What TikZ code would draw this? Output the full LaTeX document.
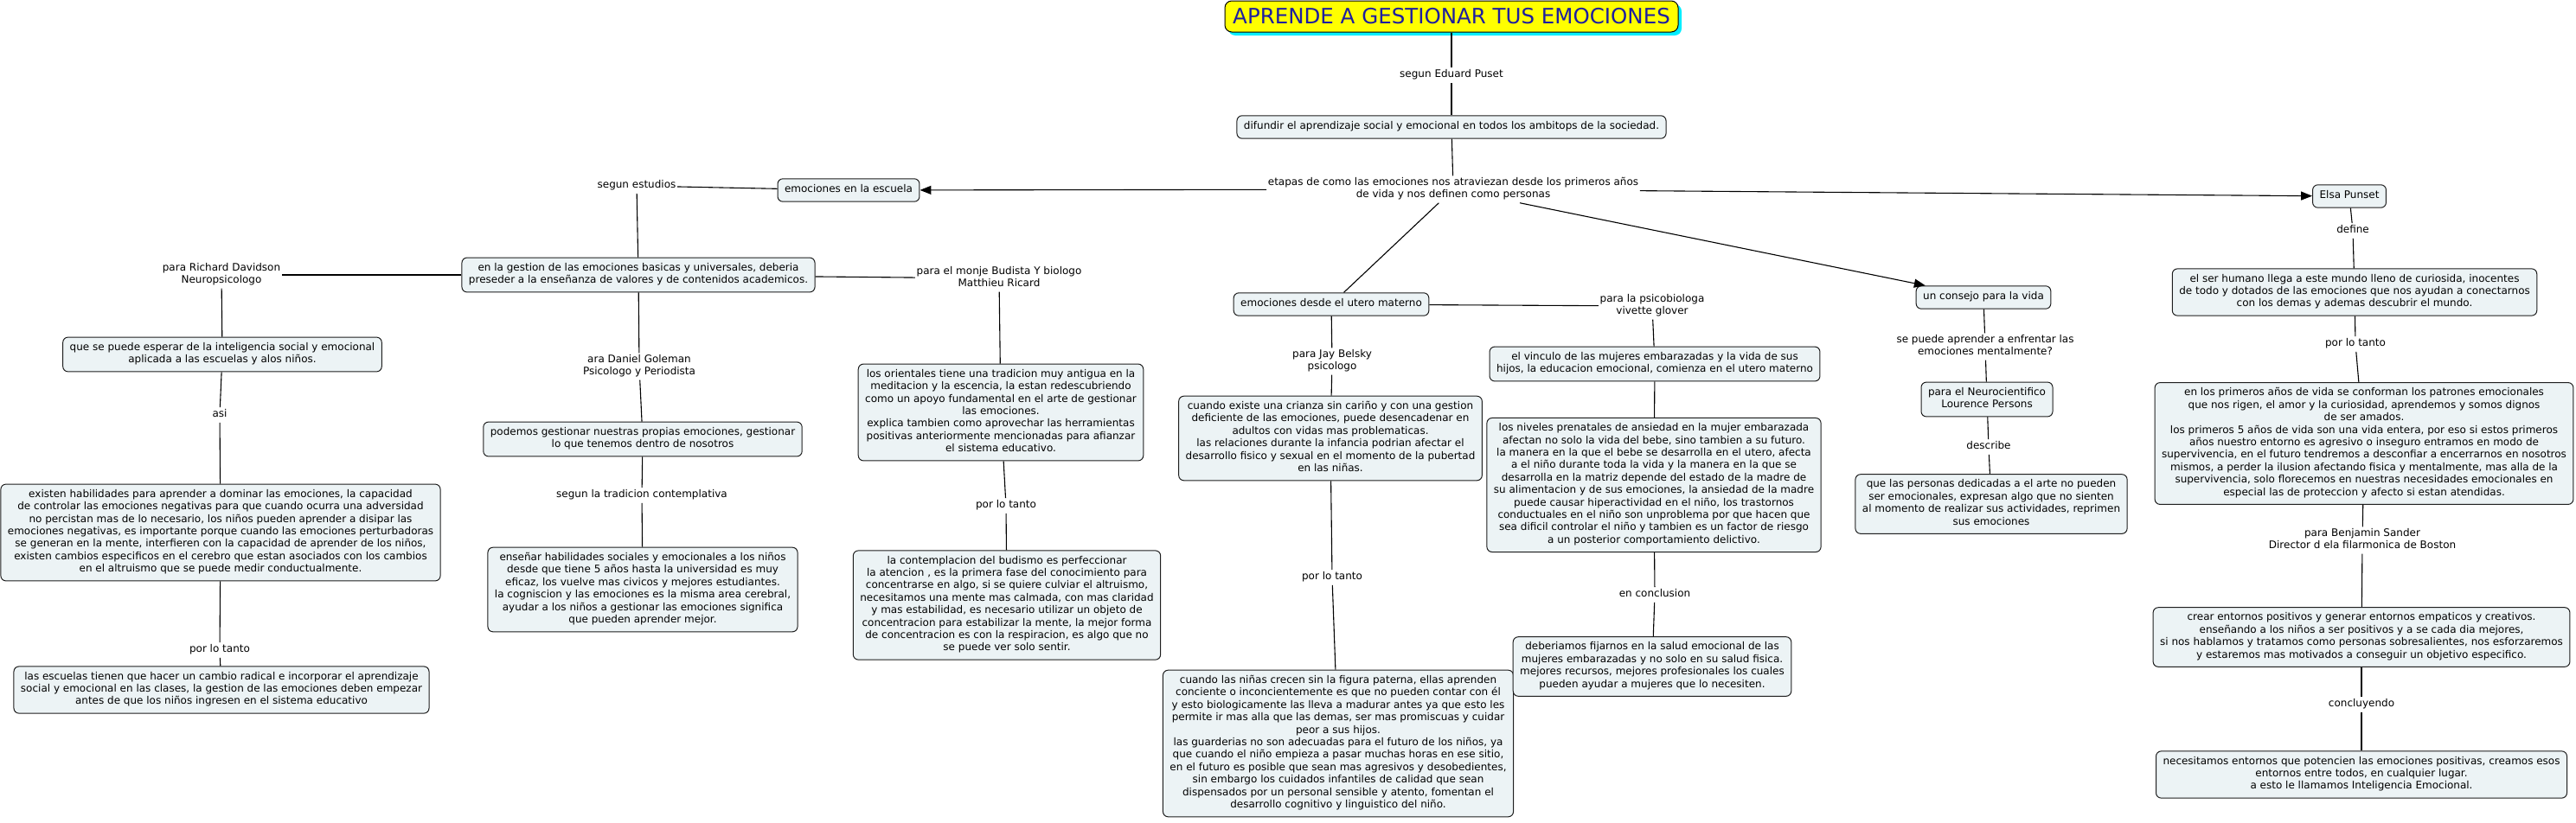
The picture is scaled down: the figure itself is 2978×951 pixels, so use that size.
\documentclass[tikz,border=0pt]{standalone}
\usepackage{fontspec}
\setmainfont{DejaVu Sans}
\usetikzlibrary{arrows.meta,shadows}
\definecolor{boxfill}{RGB}{236,243,245}
\definecolor{boxline}{RGB}{30,30,30}
\definecolor{titleblue}{RGB}{30,30,160}
\definecolor{titleyellow}{RGB}{255,255,0}
\definecolor{shadowcyan}{RGB}{0,238,255}
\begin{document}
\begin{tikzpicture}[x=1pt,y=-1pt,
  concept/.style={draw=boxline, line width=1pt, fill=boxfill, rounded corners=6pt,
    align=center, font=\fontsize{12}{14.4}\selectfont, inner xsep=8pt, inner ysep=6pt,
    execute at begin node=\strut, execute at end node=\strut},
  lbl/.style={align=center, font=\fontsize{12}{14.4}\selectfont, inner sep=1.5pt,
    execute at begin node=\strut, execute at end node=\strut},
  titlebox/.style={draw=black, line width=1pt, fill=titleyellow, text=titleblue,
    rounded corners=8pt, font=\fontsize{24.5}{29}\selectfont, minimum width=524pt,
    minimum height=36pt, inner sep=0pt,
    drop shadow={shadow xshift=4pt,shadow yshift=-4pt,fill=shadowcyan,opacity=1}},
  link/.style={draw=black, line width=1.1pt},
  arr/.style={link, -{Triangle[length=13pt,width=10pt]}}]
\useasboundingbox (0,0) rectangle (2978,951);
\fill[white] (0,0) rectangle (2978,951);

% ---- top
\node[titlebox] (title) at (1678,19) {APRENDE A GESTIONAR TUS EMOCIONES};
\node[lbl] (puset) at (1678,87) {segun Eduard Puset};
\node[concept] (difundir) at (1678,147) {difundir el aprendizaje social y emocional en todos los ambitops de la sociedad.};
\node[lbl] (etapas) at (1680,219) {etapas de como las emociones nos atraviezan desde los primeros años\\de vida y nos definen como personas};

% ---- left branch
\node[concept] (escuela) at (981,220) {emociones en la escuela};
\node[lbl] (estudios) at (736,215) {segun estudios};
\node[concept] (gestion) at (738,318) {en la gestion de las emociones basicas y universales, deberia\\preseder a la enseñanza de valores y de contenidos academicos.};
\node[lbl] (davidson) at (256,318) {para Richard Davidson\\Neuropsicologo};
\node[concept] (esperar) at (257,410) {que se puede esperar de la inteligencia social y emocional\\aplicada a las escuelas y alos niños.};
\node[lbl] (asi) at (254,480) {asi};
\node[concept] (existen) at (255,616) {existen habilidades para aprender a dominar las emociones, la capacidad\\de controlar las emociones negativas para que cuando ocurra una adversidad\\no percistan mas de lo necesario, los niños pueden aprender a disipar las\\emociones negativas, es importante porque cuando las emociones perturbadoras\\se generan en la mente, interfieren con la capacidad de aprender de los niños,\\existen cambios especificos en el cerebro que estan asociados con los cambios\\en el altruismo que se puede medir conductualmente.};
\node[lbl] (portanto1) at (254,752) {por lo tanto};
\node[concept] (escuelas) at (256,798) {las escuelas tienen que hacer un cambio radical e incorporar el aprendizaje\\social y emocional en las clases, la gestion de las emociones deben empezar\\antes de que los niños ingresen en el sistema educativo};

\node[lbl] (ricard) at (1155,322) {para el monje Budista Y biologo\\Matthieu Ricard};
\node[concept] (orientales) at (1157,477) {los orientales tiene una tradicion muy antigua en la\\meditacion y la escencia, la estan redescubriendo\\como un apoyo fundamental en el arte de gestionar\\las emociones.\\explica tambien como aprovechar las herramientas\\positivas anteriormente mencionadas para afianzar\\el sistema educativo.};
\node[lbl] (portanto2) at (1163,585) {por lo tanto};
\node[concept] (contemplacion) at (1164,700) {la contemplacion del budismo es perfeccionar\\la atencion , es la primera fase del conocimiento para\\concentrarse en algo, si se quiere culviar el altruismo,\\necesitamos una mente mas calmada, con mas claridad\\y mas estabilidad, es necesario utilizar un objeto de\\concentracion para estabilizar la mente, la mejor forma\\de concentracion es con la respiracion, es algo que no\\se puede ver solo sentir.};

\node[lbl] (goleman) at (739,424) {ara Daniel Goleman\\Psicologo y Periodista};
\node[concept] (podemos) at (743,508) {podemos gestionar nuestras propias emociones, gestionar\\lo que tenemos dentro de nosotros};
\node[lbl] (tradicion) at (742,573) {segun la tradicion contemplativa};
\node[concept] (ensenar) at (743,682) {enseñar habilidades sociales y emocionales a los niños\\desde que tiene 5 años hasta la universidad es muy\\eficaz, los vuelve mas civicos y mejores estudiantes.\\la cogniscion y las emociones es la misma area cerebral,\\ayudar a los niños a gestionar las emociones significa\\que pueden aprender mejor.};

% ---- middle branch
\node[concept] (utero) at (1539,352) {emociones desde el utero materno};
\node[lbl] (belsky) at (1540,418) {para Jay Belsky\\psicologo};
\node[concept] (crianza) at (1538,507) {cuando existe una crianza sin cariño y con una gestion\\deficiente de las emociones, puede desencadenar en\\adultos con vidas mas problematicas.\\las relaciones durante la infancia podrian afectar el\\desarrollo fisico y sexual en el momento de la pubertad\\en las niñas.};
\node[lbl] (portanto3) at (1540,668) {por lo tanto};
\node[concept] (ninas) at (1547,860) {cuando las niñas crecen sin la figura paterna, ellas aprenden\\conciente o inconcientemente es que no pueden contar con él\\y esto biologicamente las lleva a madurar antes ya que esto les\\permite ir mas alla que las demas, ser mas promiscuas y cuidar\\peor a sus hijos.\\las guarderias no son adecuadas para el futuro de los niños, ya\\que cuando el niño empieza a pasar muchas horas en ese sitio,\\en el futuro es posible que sean mas agresivos y desobedientes,\\sin embargo los cuidados infantiles de calidad que sean\\dispensados por un personal sensible y atento, fomentan el\\desarrollo cognitivo y linguistico del niño.};

\node[lbl] (glover) at (1910,354) {para la psicobiologa\\vivette glover};
\node[concept] (vinculo) at (1913,421) {el vinculo de las mujeres embarazadas y la vida de sus\\hijos, la educacion emocional, comienza en el utero materno};
\node[concept] (niveles) at (1912,561) {los niveles prenatales de ansiedad en la mujer embarazada\\afectan no solo la vida del bebe, sino tambien a su futuro.\\la manera en la que el bebe se desarrolla en el utero, afecta\\a el niño durante toda la vida y la manera en la que se\\desarrolla en la matriz depende del estado de la madre de\\su alimentacion y de sus emociones, la ansiedad de la madre\\puede causar hiperactividad en el niño, los trastornos\\conductuales en el niño son unproblema por que hacen que\\sea dificil controlar el niño y tambien es un factor de riesgo\\a un posterior comportamiento delictivo.};
\node[lbl] (conclusion) at (1913,688) {en conclusion};
\node[concept] (deberiamos) at (1910,771) {deberiamos fijarnos en la salud emocional de las\\mujeres embarazadas y no solo en su salud fisica.\\mejores recursos, mejores profesionales los cuales\\pueden ayudar a mujeres que lo necesiten.};

% ---- consejo branch
\node[concept] (consejo) at (2293,344) {un consejo para la vida};
\node[lbl] (mental) at (2295,401) {se puede aprender a enfrentar las\\emociones mentalmente?};
\node[concept] (persons) at (2297,462) {para el Neurocientifico\\Lourence Persons};
\node[lbl] (describe) at (2299,517) {describe};
\node[concept] (personas) at (2302,583) {que las personas dedicadas a el arte no pueden\\ser emocionales, expresan algo que no sienten\\al momento de realizar sus actividades, reprimen\\sus emociones};

% ---- Elsa branch
\node[concept] (elsa) at (2716,227) {Elsa Punset};
\node[lbl] (define) at (2720,267) {define};
\node[concept] (serhumano) at (2722,338) {el ser humano llega a este mundo lleno de curiosida, inocentes\\de todo y dotados de las emociones que nos ayudan a conectarnos\\con los demas y ademas descubrir el mundo.};
\node[lbl] (portanto4) at (2723,398) {por lo tanto};
\node[concept] (primeros) at (2733,513) {en los primeros años de vida se conforman los patrones emocionales\\que nos rigen, el amor y la curiosidad, aprendemos y somos dignos\\de ser amados.\\los primeros 5 años de vida son una vida entera, por eso si estos primeros\\años nuestro entorno es agresivo o inseguro entramos en modo de\\supervivencia, en el futuro tendremos a desconfiar a encerrarnos en nosotros\\mismos, a perder la ilusion afectando fisica y mentalmente, mas alla de la\\supervivencia, solo florecemos en nuestras necesidades emocionales en\\especial las de proteccion y afecto si estan atendidas.};
\node[lbl] (sander) at (2731,625) {para Benjamin Sander\\Director d ela filarmonica de Boston};
\node[concept] (crear) at (2730,737) {crear entornos positivos y generar entornos empaticos y creativos.\\enseñando a los niños a ser positivos y a se cada dia mejores,\\si nos hablamos y tratamos como personas sobresalientes, nos esforzaremos\\y estaremos mas motivados a conseguir un objetivo especifico.};
\node[lbl] (concluyendo) at (2730,815) {concluyendo};
\node[concept] (necesitamos) at (2730,896) {necesitamos entornos que potencien las emociones positivas, creamos esos\\entornos entre todos, en cualquier lugar.\\a esto le llamamos Inteligencia Emocional.};

% ---- connectors
\draw[link] (title) -- (puset);
\draw[link] (puset) -- (difundir);
\draw[link] (difundir) -- (etapas);
\draw[arr] (etapas) -- (escuela);
\draw[arr] (etapas) -- (elsa);
\draw[link] (etapas) -- (utero);
\draw[arr] (etapas) -- (consejo);

\draw[link] (escuela) -- (estudios);
\draw[link] (estudios) -- (gestion);
\draw[link] (gestion) -- (davidson);
\draw[link] (davidson) -- (esperar);
\draw[link] (esperar) -- (asi);
\draw[link] (asi) -- (existen);
\draw[link] (existen) -- (portanto1);
\draw[link] (portanto1) -- (escuelas);
\draw[link] (gestion) -- (ricard);
\draw[link] (ricard) -- (orientales);
\draw[link] (orientales) -- (portanto2);
\draw[link] (portanto2) -- (contemplacion);
\draw[link] (gestion) -- (goleman);
\draw[link] (goleman) -- (podemos);
\draw[link] (podemos) -- (tradicion);
\draw[link] (tradicion) -- (ensenar);

\draw[link] (utero) -- (belsky);
\draw[link] (belsky) -- (crianza);
\draw[link] (crianza) -- (portanto3);
\draw[link] (portanto3) -- (ninas);
\draw[link] (utero) -- (glover);
\draw[link] (glover) -- (vinculo);
\draw[link] (vinculo) -- (niveles);
\draw[link] (niveles) -- (conclusion);
\draw[link] (conclusion) -- (deberiamos);

\draw[link] (consejo) -- (mental);
\draw[link] (mental) -- (persons);
\draw[link] (persons) -- (describe);
\draw[link] (describe) -- (personas);

\draw[link] (elsa) -- (define);
\draw[link] (define) -- (serhumano);
\draw[link] (serhumano) -- (portanto4);
\draw[link] (portanto4) -- (primeros);
\draw[link] (primeros) -- (sander);
\draw[link] (sander) -- (crear);
\draw[link] (crear) -- (concluyendo);
\draw[link] (concluyendo) -- (necesitamos);
\end{tikzpicture}
\end{document}
